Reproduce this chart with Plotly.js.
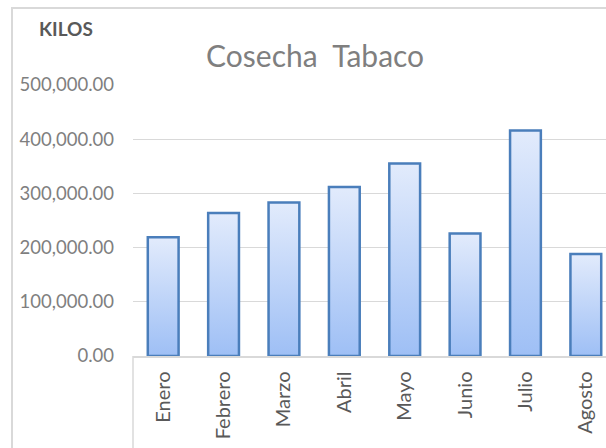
<!DOCTYPE html>
<html>
<head>
<meta charset="utf-8">
<script src="https://cdn.plot.ly/plotly-3.0.1.min.js"></script>
<style>
  html, body { margin: 0; padding: 0; background: #fff; }
  #wrap { position: relative; width: 606px; height: 448px; overflow: hidden; }
  #chart { position: absolute; left: 0; top: 0; width: 606px; height: 448px; }
  #frame { position: absolute; left: 11px; top: 7px; width: 700px; height: 500px;
           border-left: 2px solid #d9d9d9; border-top: 2px solid #d9d9d9; pointer-events: none; }
</style>
</head>
<body>
<div id="wrap">
  <div id="chart"></div>
  <div id="frame"></div>
</div>
<script>
const months = ["Enero", "Febrero", "Marzo", "Abril", "Mayo", "Junio", "Julio", "Agosto"];
const kilos = [219000, 264000, 283000, 312000, 355000, 226000, 416000, 188000];
const yTicks = [0, 100000, 200000, 300000, 400000, 500000];
const chartTitle = "Cosecha  Tabaco";
const axisTitle = "KILOS";

const font = "Lato, 'Open Sans', sans-serif";

const trace = {
  type: "bar",
  x: months,
  y: kilos,
  marker: { color: "#c4d7f8", line: { color: "#4a7ebb", width: 2.5 } },
  hoverinfo: "none"
};

const layout = {
  width: 606, height: 448,
  margin: { l: 133, r: 0, t: 85, b: 92, pad: 0 },
  paper_bgcolor: "rgba(0,0,0,0)",
  plot_bgcolor: "rgba(0,0,0,0)",
  bargap: 0.49,
  showlegend: false,
  title: {
    text: chartTitle,
    font: { family: font, size: 30, color: "#7f7f7f" },
    x: 0.52, xanchor: "center", y: 0.875, yanchor: "middle"
  },
  xaxis: {
    type: "category",
    range: [-0.5, 7.334],
    tickangle: -90,
    tickfont: { family: font, size: 20, color: "#595959" },
    showline: true, linecolor: "#d9d9d9", linewidth: 1.5,
    showgrid: false, zeroline: false,
    ticks: "", ticklabelstandoff: 6
  },
  yaxis: {
    range: [0, 500000],
    tickvals: yTicks,
    tickformat: ",.2f",
    tickfont: { family: font, size: 18.5, color: "#7f7f7f" },
    showgrid: true, gridcolor: "#d9d9d9", gridwidth: 1.2,
    zeroline: false, showline: false,
    ticks: "", ticklabelstandoff: 18
  },
  annotations: [{
    text: "<b>" + axisTitle + "</b>",
    xref: "paper", yref: "paper",
    x: (66 - 133) / 473, y: (356 - 29) / 271,
    xanchor: "center", yanchor: "middle",
    showarrow: false,
    font: { family: font, size: 19, color: "#595959" }
  }],
  shapes: [{
    type: "line", xref: "paper", yref: "paper",
    x0: 0, x1: 0, y0: 0, y1: -0.4,
    line: { color: "#d9d9d9", width: 1.5 }
  }]
};

Plotly.newPlot("chart", [trace], layout, { displayModeBar: false, staticPlot: true }).then(function (gd) {
  const svg = gd.querySelector("svg.main-svg");
  const ns = "http://www.w3.org/2000/svg";
  let defs = svg.querySelector("defs");
  if (!defs) { defs = document.createElementNS(ns, "defs"); svg.insertBefore(defs, svg.firstChild); }
  const grad = document.createElementNS(ns, "linearGradient");
  grad.setAttribute("id", "barGrad");
  grad.setAttribute("x1", "0"); grad.setAttribute("y1", "0");
  grad.setAttribute("x2", "0"); grad.setAttribute("y2", "1");
  [["0", "#e2ebfc"], ["1", "#9ebff5"]].forEach(function (s) {
    const st = document.createElementNS(ns, "stop");
    st.setAttribute("offset", s[0]);
    st.setAttribute("stop-color", s[1]);
    grad.appendChild(st);
  });
  defs.appendChild(grad);
  gd.querySelectorAll(".bars .point path").forEach(function (p) {
    p.style.fill = "url(#barGrad)";
  });
});
</script>
</body>
</html>
